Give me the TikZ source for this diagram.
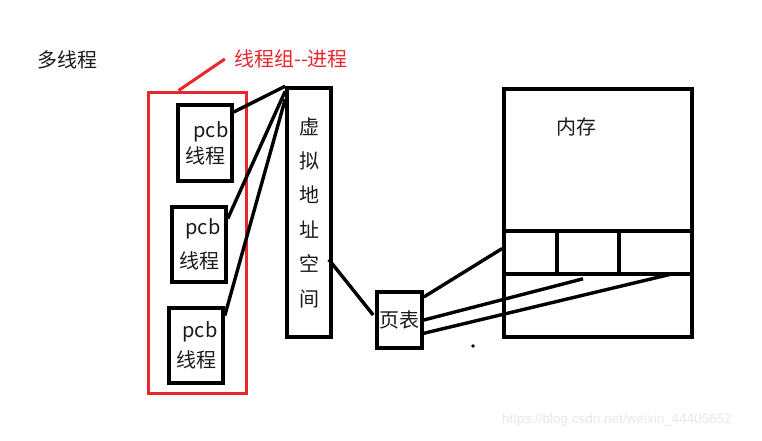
\documentclass[tikz,border=0pt]{standalone}
\usepackage{fontspec}
\setmainfont{Noto Sans CJK SC}
\newfontfamily\markfont{Liberation Sans}
\usepackage{xcolor}
\usepackage{tikz}
\usetikzlibrary{positioning}
\definecolor{ink}{HTML}{1A1A1A}
\definecolor{groupred}{HTML}{E8262E}
\definecolor{markgray}{HTML}{E6E6E6}

\begin{document}
\begin{tikzpicture}[x=1pt,y=-1pt,
 label/.style={inner sep=0pt,text=ink,font=\fontsize{20}{24}\selectfont},
 threadbox/.style={draw=black,line width=3.6pt,minimum width=54pt,minimum height=75pt,inner sep=1pt,align=center,text=ink,font=\fontsize{20}{30}\selectfont},
 tallbox/.style={draw=black,line width=3.6pt,minimum width=44pt,minimum height=249pt,inner sep=0pt,align=center,text=ink,font=\fontsize{20}{34.4}\selectfont},
 cellbox/.style={draw=black,line width=3.6pt,minimum height=43pt,inner sep=0pt},
 wire/.style={draw=black,line width=3.4pt},
 redwire/.style={draw=groupred,line width=3pt}
]
\useasboundingbox (0,0) rectangle (762,440);
\node[label] (title) at (67,60) {多线程};
\node[label,text=groupred] (grouplabel) at (291,59) {线程组{-}{-}进程};
\node[draw=groupred,line width=3pt,minimum width=98pt,minimum height=301pt] (group) at (197,242.5) {};
\node[threadbox,minimum height=76pt] (thread1) at (205,143) {\hspace*{12pt}pcb\\[-4pt]线程};
\node[threadbox] (thread2) at (199,244.5) {\hspace*{8pt}pcb\\[4pt]线程};
\node[threadbox] (thread3) at (196,345.5) {\hspace*{8pt}pcb\\线程};
\node[tallbox] (vas) at (309,212.5) {虚\\拟\\地\\址\\空\\间};
\node[threadbox,minimum width=45pt,minimum height=56pt,inner sep=0pt] (pagetable) at (399.5,320) {页表};
\node[draw=black,line width=3.6pt,minimum width=188pt,minimum height=248pt] (memory) at (598,213) {};
\node[label] (memlabel) at (576,127) {内存};
\node[cellbox,minimum width=53pt] (cell1) at (530.5,252.5) {};
\node[cellbox,minimum width=62pt] (cell2) at (588,252.5) {};
\node[cellbox,minimum width=73pt] (cell3) at (655.5,252.5) {};
\node[inner sep=0pt,text=markgray,font=\markfont\fontsize{13.5}{16}\selectfont] (watermark) at (617,420) {https://blog.csdn.net/weixin\_44405652};
% connectors
\draw[redwire] ([xshift=32pt]group.north west) -- ([xshift=-9pt]grouplabel.west);
\draw[wire] ([yshift=31pt]thread1.east) -- (vas.north west);
\draw[wire] ([yshift=26pt]thread2.east) -- ([yshift=-5pt]vas.north west);
\draw[wire] ([yshift=30pt]thread3.east) -- ([yshift=-13pt]vas.north west);
\draw[wire] ([xshift=-4pt,yshift=-47pt]vas.east) -- ([xshift=-2pt,yshift=5pt]pagetable.west);
\draw[wire] ([yshift=23pt]pagetable.east) -- ([yshift=4pt]cell1.west);
\draw[wire] (pagetable.east) -- ([xshift=-5pt,yshift=-3pt]cell2.south);
\draw[wire] ([xshift=-3pt,yshift=-14pt]pagetable.east) -- ([xshift=17pt,yshift=2pt]cell3.south);
\fill[black] (473,346) circle (1.8);
\end{tikzpicture}
\end{document}
